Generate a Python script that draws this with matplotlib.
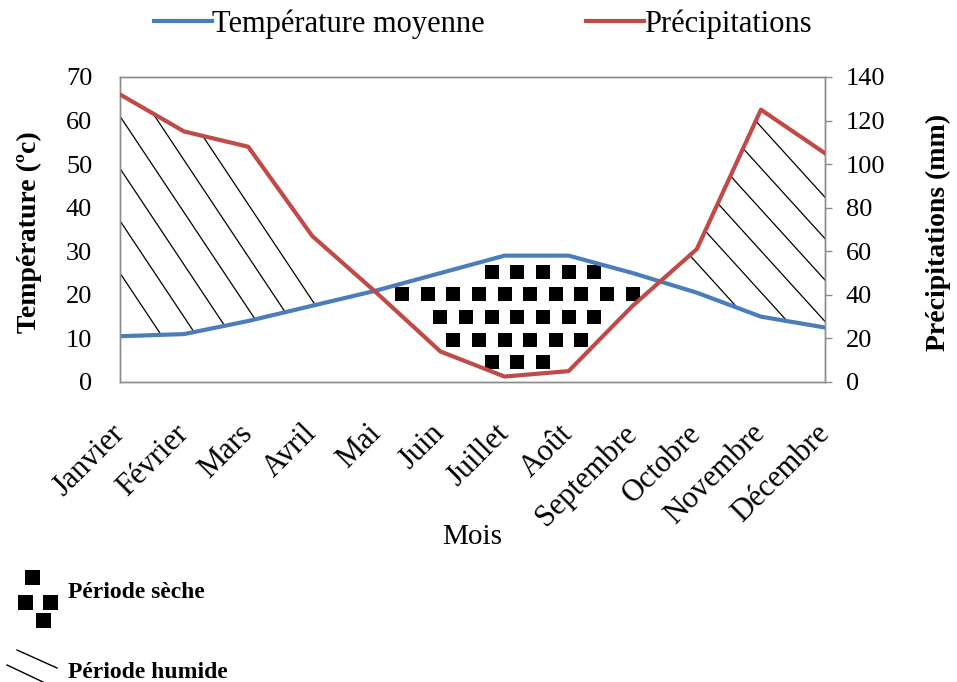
import numpy as np
import matplotlib
matplotlib.use('Agg')
import matplotlib.pyplot as plt
from matplotlib.path import Path
from matplotlib.lines import Line2D
from matplotlib.patches import Rectangle

months = ['Janvier', 'Février', 'Mars', 'Avril', 'Mai', 'Juin', 'Juillet',
          'Août', 'Septembre', 'Octobre', 'Novembre', 'Décembre']
temperature = [10.5, 11, 14, 17.5, 21, 25, 29, 29, 25, 20.5, 15, 12.5]     # °C
precipitation = [132, 115, 108, 67, 41, 14, 2.5, 5, 35, 61, 125, 105]     # mm
temp_ticks = [0, 10, 20, 30, 40, 50, 60, 70]
precip_ticks = [0, 20, 40, 60, 80, 100, 120, 140]

plt.rcParams['font.family'] = ['Liberation Serif', 'DejaVu Serif']

BLUE = '#4A7EBB'
RED = '#BE4B48'
GRAY = '#8C8C8C'

x = np.arange(len(months))
t = np.array(temperature)
p_half = np.array(precipitation) / 2.0   # P = 2T scale

fig = plt.figure(figsize=(9.57, 6.82), dpi=100)
ax = fig.add_axes([120 / 957, 1 - 382 / 682, 705 / 957, 305 / 682])
ax2 = ax.twinx()

# humid periods (P > 2T): sparse diagonal hatching clipped to the regions
def hatch(mask, x_ref, c0, step, slope, n):
    reg = ax.fill_between(x, t, p_half, where=mask, interpolate=True,
                          facecolor='none', edgecolor='none', lw=0)
    clip = Path.make_compound_path(*reg.get_paths())
    xx = np.array([-1.0, 12.0])
    for k in range(n):
        ln, = ax.plot(xx, c0 + k * step - slope * (xx - x_ref),
                      color='black', lw=0.9, zorder=1)
        ln.set_clip_path(clip, ax.transData)

hatch((p_half >= t) & (x < 6), 0, 25, 12, 22.1, 6)
hatch((p_half >= t) & (x > 6), 11, -5.1, 9.5, 16.2, 6)

# dry period (P < 2T): black squares on a staggered grid inside the region
dry = ax.fill_between(x, t, p_half, where=(p_half <= t), interpolate=True,
                      facecolor='none', edgecolor='none', lw=0)
dry_path = Path.make_compound_path(*dry.get_paths())
gx = np.arange(4.2, 8.6, 0.4)
gy = np.arange(4.5, 30, 5.2)
pts = []
for i, yy in enumerate(gy):
    for xv in gx + (0.2 if i % 2 else 0.0):
        corners = [(xv + dx, yy + dy) for dx in (-0.09, 0.09) for dy in (-1.3, 1.3)]
        if dry_path.contains_points(corners).all():
            pts.append((xv, yy))
pts = np.array(pts)
ax.scatter(pts[:, 0], pts[:, 1], marker='s', s=115, color='black',
           linewidths=0, zorder=1.5)

ax.plot(x, t, color=BLUE, lw=3, zorder=3)
ax2.plot(x, precipitation, color=RED, lw=3, zorder=3)

ax.set_xlim(0, 11)
ax.set_ylim(0, 70)
ax2.set_ylim(0, 140)
ax.set_yticks(temp_ticks)
ax2.set_yticks(precip_ticks)
ax.set_xticks(x)
ax.set_xticklabels(months, rotation=45, ha='right', va='center',
                   rotation_mode='anchor', fontsize=22)
ax.tick_params(axis='x', length=0, pad=34)
ax.tick_params(axis='y', length=0, pad=20, labelsize=19)
ax2.tick_params(axis='y', length=5, width=1, color=GRAY, pad=10, labelsize=19)
for a in (ax, ax2):
    for s in a.spines.values():
        s.set_color(GRAY)
        s.set_linewidth(1)

ax.set_xlabel('Mois', fontsize=21)
ax.xaxis.set_label_coords(0.5, -0.465)
ax.set_ylabel('Température (ºc)', fontsize=20, fontweight='bold')
ax.yaxis.set_label_coords(-0.11, 0.49)
ax2.set_ylabel('Précipitations (mm)', fontsize=20, fontweight='bold')
ax2.yaxis.set_label_coords(1.143, 0.49)

handles = [Line2D([], [], color=BLUE, lw=3), Line2D([], [], color=RED, lw=3)]
fig.legend(handles, ['Température moyenne', 'Précipitations'], loc='center',
           bbox_to_anchor=(483 / 957, 1 - 24 / 682), ncol=2, frameon=False,
           fontsize=22, handlelength=1.9, handletextpad=0.0, columnspacing=3.3)

# key below the chart
W, H = 957, 682
for cx, cy in [(32, 577), (25, 602), (50, 602), (43, 620)]:
    fig.add_artist(Rectangle(((cx - 7.5) / W, 1 - (cy + 7.5) / H), 15 / W, 15 / H,
                             transform=fig.transFigure, color='black', lw=0))
fig.text(68 / W, 1 - 593 / H, 'Période sèche', fontsize=17, fontweight='bold',
         va='center', ha='left')
for (x0, y0), (x1, y1) in [((17, 650), (57, 668)), ((7, 665), (43, 682))]:
    fig.add_artist(Line2D([x0 / W, x1 / W], [1 - y0 / H, 1 - y1 / H],
                          transform=fig.transFigure, color='black', lw=1))
fig.text(68 / W, 1 - 672 / H, 'Période humide', fontsize=17, fontweight='bold',
         va='center', ha='left')

fig.savefig('out.png', dpi=100)
